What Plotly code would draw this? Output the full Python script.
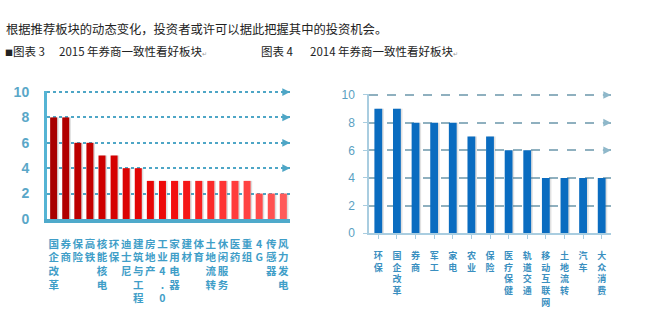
import plotly.graph_objects as go

# ---------------- data ----------------
cats15 = ["国企改革", "券商", "保险", "高铁", "核能核电", "环保", "迪士尼", "建筑与工程",
          "房地产", "工业4.0", "家用电器", "建材", "体育", "土地流转", "休闲服务", "医药",
          "重组", "4G", "传感器", "风力发电"]
vals15 = [8, 8, 6, 6, 5, 5, 4, 4, 3, 3, 3, 3, 3, 3, 3, 3, 3, 2, 2, 2]

cats14 = ["环保", "国企改革", "券商", "军工", "家电", "农业", "保险", "医疗保健",
          "轨道交通", "移动互联网", "土地流转", "汽车", "大众消费"]
vals14 = [9, 9, 8, 8, 8, 7, 7, 6, 6, 4, 4, 4, 4]

yticks = [0, 2, 4, 6, 8, 10]

intro = "根据推荐板块的动态变化，投资者或许可以据此把握其中的投资机会。"
title15_a = "<span style='font-size:8px'>■</span>图表 3"
title15_b = "2015 年券商一致性看好板块"
title14_a = "图表 4"
title14_b = "2014 年券商一致性看好板块"

# ---------------- styling ----------------
W, H = 659, 332
CJK = "Noto Sans CJK SC"


def vert(s):
    return "<br>".join(list(s))


def lerp_color(c1, c2, t):
    a = [int(c1[i:i + 2], 16) for i in (1, 3, 5)]
    b = [int(c2[i:i + 2], 16) for i in (1, 3, 5)]
    return "#" + "".join(f"{round(a[k] + (b[k] - a[k]) * t):02x}" for k in range(3))


n15 = len(vals15)
red_stops = ["#a80000", "#d40000", "#f00a0a", "#ff3636", "#ff5a5a"]


def red_at(i):
    t = i / (n15 - 1) * (len(red_stops) - 1)
    k = min(int(t), len(red_stops) - 2)
    return lerp_color(red_stops[k], red_stops[k + 1], t - k)


colors15 = [red_at(i) for i in range(n15)]

fig = go.Figure()

# shadows (derived from data) for a soft 3D look
fig.add_trace(go.Bar(x=list(range(n15)), y=vals15, xaxis="x", yaxis="y",
                     marker=dict(color="rgba(120,120,120,0.25)", line_width=0),
                     width=0.6, offset=-0.18, hoverinfo="skip", showlegend=False))
fig.add_trace(go.Bar(x=list(range(n15)), y=vals15, xaxis="x", yaxis="y",
                     marker=dict(color=colors15, line_width=0),
                     width=0.58, showlegend=False))

n14 = len(vals14)
fig.add_trace(go.Bar(x=list(range(n14)), y=vals14, xaxis="x2", yaxis="y2",
                     marker=dict(color="rgba(120,120,120,0.22)", line_width=0),
                     width=0.42, offset=-0.12, hoverinfo="skip", showlegend=False))
fig.add_trace(go.Bar(x=list(range(n14)), y=vals14, xaxis="x2", yaxis="y2",
                     marker=dict(color="#0a6cc0", line_width=0),
                     width=0.42, showlegend=False))

# pixel geometry
L_x0, L_x1 = 47, 290
L_y0, L_y1 = 222, 88
R_x0, R_x1 = 369, 611
R_y0, R_y1 = 237, 91

label_col15 = "#3f9ec8"
label_col14 = "#3a8fc0"

fig.update_layout(
    width=W, height=H,
    margin=dict(l=0, r=0, t=0, b=0),
    paper_bgcolor="white", plot_bgcolor="rgba(0,0,0,0)",
    barmode="overlay",
    font=dict(family=CJK),
    xaxis=dict(
        domain=[L_x0 / W, L_x1 / W],
        range=[-0.55, n15 - 0.45],
        tickmode="array", tickvals=list(range(n15)),
        ticktext=[vert(c) for c in cats15],
        tickangle=0,
        tickfont=dict(family=CJK, size=10.5, color=label_col15, weight="bold"),
        ticklabelstandoff=12,
        showline=True, linecolor="#4faacb", linewidth=4,
        showgrid=False, zeroline=False, ticks="", fixedrange=True,
    ),
    yaxis=dict(
        domain=[(H - L_y0) / H, (H - L_y1) / H],
        range=[0, 10.08],
        tickmode="array", tickvals=yticks,
        tickfont=dict(family="Liberation Sans, Arial", size=14, color="#5aa7c8",
                      weight="bold"),
        ticklabelstandoff=12,
        showline=True, linecolor="#55b4d4", linewidth=3,
        showgrid=True, gridcolor="#4ea6c6", gridwidth=1.6, griddash="dot",
        zeroline=False, ticks="", fixedrange=True,
    ),
    xaxis2=dict(
        domain=[R_x0 / W, R_x1 / W],
        range=[-0.5, n14 - 0.5],
        tickmode="array", tickvals=list(range(n14)),
        ticktext=[vert(c) for c in cats14],
        tickangle=0,
        tickfont=dict(family=CJK, size=9, color=label_col14, weight="bold"),
        ticks="outside", tickson="boundaries", ticklen=4, tickcolor="#a9cde0",
        ticklabelstandoff=9,
        showline=True, linecolor="#a9cde0", linewidth=1.5,
        showgrid=False, zeroline=False, fixedrange=True, anchor="y2",
    ),
    yaxis2=dict(
        domain=[(H - R_y0) / H, (H - R_y1) / H],
        range=[0, 10.08],
        tickmode="array", tickvals=yticks,
        tickfont=dict(family="Liberation Sans, Arial", size=12, color="#5a9fc2"),
        ticks="outside", ticklen=4, tickcolor="#a9cde0",
        ticklabelstandoff=6,
        showline=True, linecolor="#a9cde0", linewidth=1.5,
        showgrid=True, gridcolor="#8fb0bf", gridwidth=1.5, griddash="dash",
        zeroline=False, fixedrange=True, anchor="x2",
    ),
)

annotations = []
# arrowheads at the ends of gridlines
for t in yticks[1:]:
    if t > vals15[-1]:
        annotations.append(dict(xref="x domain", yref="y", x=1.0, y=t,
                                axref="x domain", ayref="y", ax=0.96, ay=t,
                                showarrow=True, arrowhead=2, arrowsize=1.1,
                                arrowwidth=1.4, arrowcolor="#4ea6c6", text=""))
    if t > vals14[-1]:
        annotations.append(dict(xref="x2 domain", yref="y2", x=1.0, y=t,
                                axref="x2 domain", ayref="y2", ax=0.96, ay=t,
                                showarrow=True, arrowhead=2, arrowsize=1.1,
                                arrowwidth=1.4, arrowcolor="#8fb8ca", text=""))

# header text
annotations.append(dict(xref="paper", yref="paper", x=4 / W, y=1 - 23 / H,
                        xanchor="left", yanchor="middle", showarrow=False,
                        text=intro, font=dict(family=CJK, size=12.3, color="#222222")))
annotations.append(dict(xref="paper", yref="paper", x=3 / W, y=1 - 46 / H,
                        xanchor="left", yanchor="middle", showarrow=False,
                        text=title15_a, font=dict(family=CJK, size=11.5, color="#222222")))
annotations.append(dict(xref="paper", yref="paper", x=57 / W, y=1 - 46 / H,
                        xanchor="left", yanchor="middle", showarrow=False,
                        text=title15_b + "<span style='font-size:6px;color:#999'>↵</span>",
                        font=dict(family=CJK, size=11.5, color="#222222")))
annotations.append(dict(xref="paper", yref="paper", x=259 / W, y=1 - 46 / H,
                        xanchor="left", yanchor="middle", showarrow=False,
                        text=title14_a, font=dict(family=CJK, size=11.5, color="#222222")))
annotations.append(dict(xref="paper", yref="paper", x=308 / W, y=1 - 46 / H,
                        xanchor="left", yanchor="middle", showarrow=False,
                        text=title14_b + "<span style='font-size:6px;color:#999'>↵</span>",
                        font=dict(family=CJK, size=11.5, color="#222222")))

fig.update_layout(annotations=annotations)

fig.write_html("out.html")
